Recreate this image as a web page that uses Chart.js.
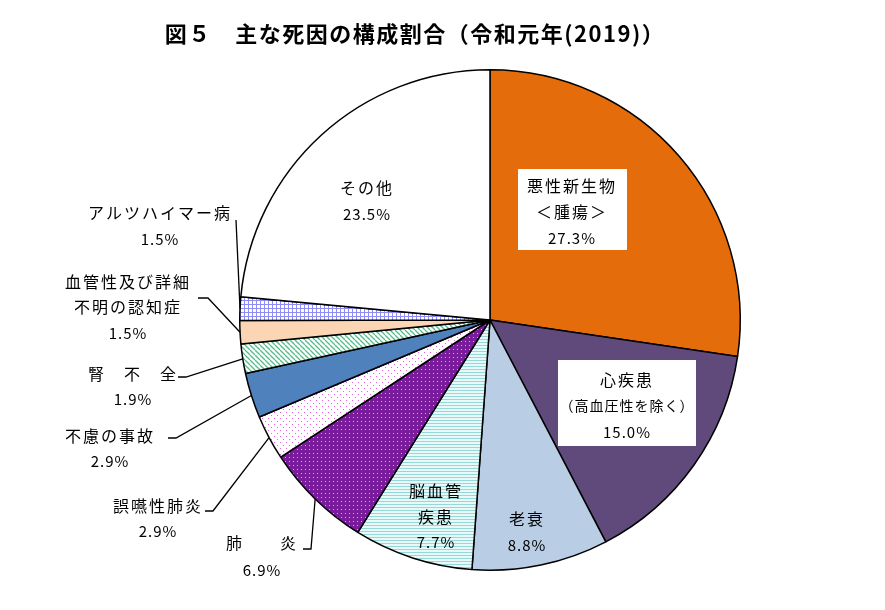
<!DOCTYPE html>
<html lang="ja">
<head>
<meta charset="utf-8">
<script src="https://cdn.jsdelivr.net/npm/chart.js@4.4.1/dist/chart.umd.min.js"></script>
<style>
  html, body { margin: 0; padding: 0; background: #fff; }
  #wrap { width: 885px; height: 610px; }
</style>
</head>
<body>
<div id="wrap"><canvas id="pieChart" width="885" height="610"></canvas></div>
<script>
// data (令和元年 主な死因の構成割合, %)
const causes = ["悪性新生物＜腫瘍＞", "心疾患（高血圧性を除く）", "老衰", "脳血管疾患", "肺炎",
  "誤嚥性肺炎", "不慮の事故", "腎不全", "血管性及び詳細不明の認知症", "アルツハイマー病", "その他"];
const shares = [27.3, 15.0, 8.8, 7.7, 6.9, 2.9, 2.9, 1.9, 1.5, 1.5, 23.5];
const labelLines = [
  ["悪性新生物", "＜腫瘍＞"], ["心疾患", "（高血圧性を除く）"], ["老衰"], ["脳血管", "疾患"],
  ["肺　　炎"], ["誤嚥性肺炎"], ["不慮の事故"], ["腎　不　全"],
  ["血管性及び詳細", "不明の認知症"], ["アルツハイマー病"], ["その他"]
];
const chartTitle = "図５　主な死因の構成割合（令和元年(2019)）";

// label layout (text centre x, line y's, optional white box, leader start points)
const labelLayout = [
  { x: 572, y: [186, 212, 238], box: [518, 169, 109, 81] },
  { x: 627, y: [380, 406, 432], box: [558, 360, 138, 86] },
  { x: 527, y: [519, 545] },
  { x: 436, y: [491, 517, 542] },
  { x: 262, y: [543, 570], leader: [[303, 549], [311, 549]] },
  { x: 158, y: [506, 531], leader: [[205, 511], [213, 511]] },
  { x: 110, y: [436, 461], leader: [[168, 438], [176, 438]] },
  { x: 133, y: [374, 399], leader: [[178, 377], [186, 377]] },
  { x: 128, y: [282, 307, 333], leader: [[198, 298], [208, 298]] },
  { x: 160, y: [213, 239], leader: [[236, 220]] },
  { x: 367, y: [188, 214] }
];

const JP = '"Noto Sans CJK JP", "Noto Sans", sans-serif';

function makePattern(w, h, bg, draw) {
  const c = document.createElement("canvas");
  c.width = w; c.height = h;
  const g = c.getContext("2d");
  g.fillStyle = bg;
  g.fillRect(0, 0, w, h);
  draw(g);
  return g.createPattern(c, "repeat");
}

const cyanLines = makePattern(4, 3, "#e9f8f8", (g) => {
  g.fillStyle = "#94d8d8"; g.fillRect(0, 0, 4, 1);
});
const purpleDots = makePattern(4, 4, "#7a1a9c", (g) => {
  g.fillStyle = "#e3a0ee"; g.fillRect(1, 1, 1, 1);
});
const pinkDots = makePattern(6, 6, "#ffffff", (g) => {
  g.fillStyle = "#e060e0"; g.fillRect(1, 1, 1, 1); g.fillRect(4, 4, 1, 1);
});
const greenDiag = makePattern(5, 5, "#ffffff", (g) => {
  g.strokeStyle = "#55bb8a"; g.lineWidth = 1.3;
  for (let k = -1; k <= 1; k++) {
    g.beginPath(); g.moveTo(k * 5, 0); g.lineTo(k * 5 + 5, 5); g.stroke();
  }
});
const blueGrid = makePattern(4, 4, "#ffffff", (g) => {
  g.fillStyle = "#8d8df3"; g.fillRect(0, 0, 4, 1); g.fillRect(0, 0, 1, 4);
});

const sliceFills = ["#e46c0a", "#604a7b", "#b9cde5", cyanLines, purpleDots, pinkDots,
  "#4f81bd", greenDiag, "#fcd5b5", blueGrid, "#ffffff"];

const labelPlugin = {
  id: "pieLabels",
  afterDatasetsDraw(chart) {
    const ctx = chart.ctx;
    const arcs = chart.getDatasetMeta(0).data;
    ctx.save();
    ctx.fillStyle = "#000";
    ctx.font = "bold 22px " + JP;
    ctx.textAlign = "center";
    ctx.textBaseline = "middle";
    ctx.letterSpacing = "1.5px";
    ctx.fillText(chartTitle, 415, 34);

    labelLayout.forEach((lay, i) => {
      if (lay.box) {
        ctx.fillStyle = "#fff";
        ctx.fillRect(lay.box[0], lay.box[1], lay.box[2], lay.box[3]);
      }
      if (lay.leader) {
        const a = arcs[i].getProps(["x", "y", "startAngle", "endAngle", "outerRadius"], true);
        const mid = (a.startAngle + a.endAngle) / 2;
        ctx.strokeStyle = "#000";
        ctx.lineWidth = 1.3;
        ctx.beginPath();
        lay.leader.forEach((p, k) => (k ? ctx.lineTo(p[0], p[1]) : ctx.moveTo(p[0], p[1])));
        ctx.lineTo(a.x + Math.cos(mid) * a.outerRadius, a.y + Math.sin(mid) * a.outerRadius);
        ctx.stroke();
      }
      const lines = labelLines[i].concat([shares[i].toFixed(1) + "%"]);
      ctx.fillStyle = "#000";
      lines.forEach((t, k) => {
        const isPct = k === lines.length - 1;
        const small = t.startsWith("（");
        ctx.letterSpacing = isPct ? "1px" : small ? "1px" : "2px";
        ctx.font = (isPct ? "15px " : small ? "14px " : "16px ") + JP;
        ctx.fillText(t, lay.x, lay.y[k]);
      });
    });
    ctx.restore();
  }
};

new Chart(document.getElementById("pieChart"), {
  type: "pie",
  data: {
    labels: causes,
    datasets: [{
      data: shares,
      backgroundColor: sliceFills,
      borderColor: "#000",
      borderWidth: 1.5,
      hoverOffset: 0
    }]
  },
  options: {
    responsive: false,
    animation: false,
    events: [],
    layout: { padding: { left: 239, right: 144, top: 69, bottom: 39 } },
    plugins: {
      legend: { display: false },
      tooltip: { enabled: false },
      title: { display: false }
    }
  },
  plugins: [labelPlugin]
});
</script>
</body>
</html>
